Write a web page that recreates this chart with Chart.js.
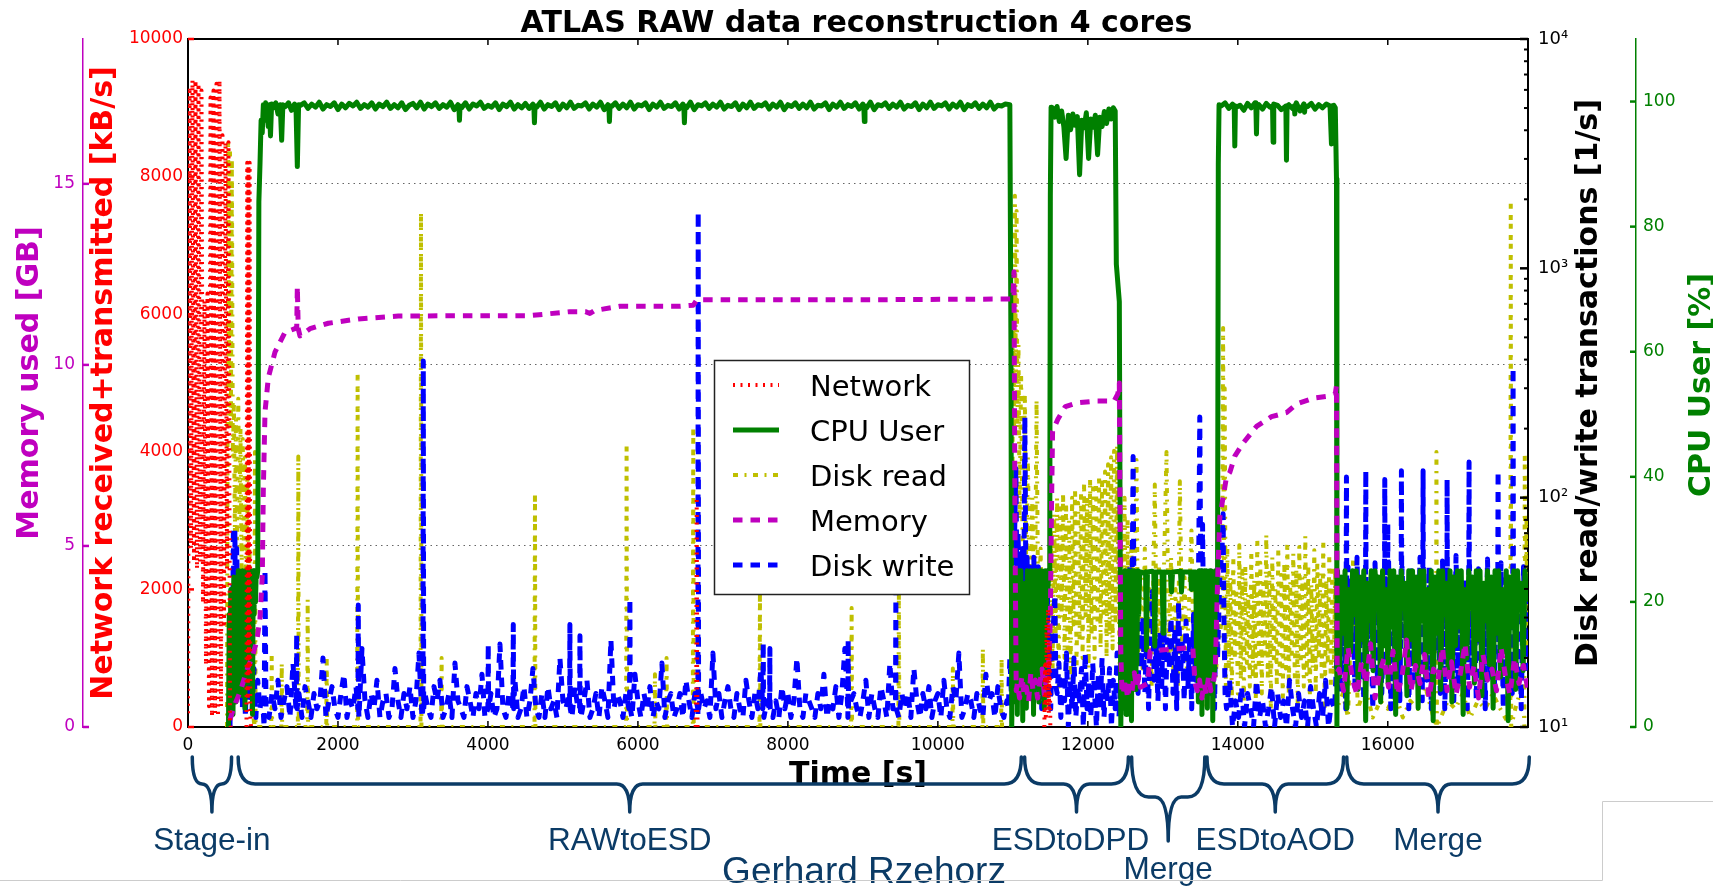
<!DOCTYPE html>
<html><head><meta charset="utf-8">
<script src="https://cdn.jsdelivr.net/npm/chart.js@4.4.0/dist/chart.umd.min.js"></script>
<style>html,body{margin:0;padding:0;background:#fff;}canvas{display:block;}</style>
</head><body>
<canvas id="c" width="1713" height="887"></canvas>
<script>
// ---------------- DATA ----------------
const chartTitle = 'ATLAS RAW data reconstruction 4 cores';
const xTicks = [0, 2000, 4000, 6000, 8000, 10000, 12000, 14000, 16000];
const netTicks = [0, 2000, 4000, 6000, 8000, 10000];
const memTicks = [0, 5, 10, 15];
const cpuTicks = [0, 20, 40, 60, 80, 100];
const logTicks = [10, 100, 1000, 10000];
const logTickLabels = ['10¹', '10²', '10³', '10⁴'];
const logMinorTicks = [20,30,40,50,60,70,80,90,200,300,400,500,600,700,800,900,2000,3000,4000,5000,6000,7000,8000,9000];

const phaseNames = ['Stage-in', 'RAWtoESD', 'ESDtoDPD', 'Merge', 'ESDtoAOD', 'Merge'];
const phaseStart = [57, 669, 11157, 12584, 13589, 15453];
const phaseEnd = [581, 11113, 12541, 13560, 15410, 17887];
const author = 'Gerhard Rzehorz';

// Network [kB/s]: stage-in burst, t = 0 s, step 20 s
const networkStage = [200,9300,2600,9400,2400,9400,2300,9350,2400,9250,1800,6200,900,6300,300,9150,150,9250,200,9350,
  150,9400,300,8600,1500,8500,2300,8500,100];
// Network [kB/s]: later points [t, value] (null = no data)
const networkLater = [[570,0],[580,null],[780,0],[790,8200],[798,400],[806,8150],[814,800],[822,8200],[830,200],[840,0],[850,null],
  [6770,0],[6778,580],[6784,3340],[6790,600],[6796,0],[6800,null],
  [11420,0],[11430,900],[11440,100],[11450,1500],[11460,300],[11470,1715],[11480,200],[11490,1200],[11500,0],[11510,null]];

// CPU User [%]
const cpuStageIn = [0,18,3,22,6,20,2,24,10,19,4,23,8,25,12,21,5,24,14,25,9,22,3,25,15,25,7,24,17,25,11,23,2,25,18,25,20,25,24]; // t=540, step 10
const cpuPoints = [[930,25],[945,84],[960,90],[975,97],[990,95],[1005,99.5],[1020,97],[1035,99.8],[1050,99],[1070,96],[1085,99.5],[1100,94.5],
  [1115,99.6],[1140,99],[1170,99.8],[1200,98],[1230,99.5],[1249,93.8],[1265,99.5],[1300,99.2],[1340,99.8],[1380,98.6],[1420,99.6],[1440,99.2],[1458,89.6],[1475,99.5],
  [3612,99.3],[3620,97.0],[3628,99.3],[4612,99.3],[4620,96.6],[4628,99.3],[5612,99.3],[5620,96.8],[5628,99.3],
  [6612,99.3],[6620,96.6],[6628,99.3],[9012,99.3],[9020,96.8],[9028,99.3],
  [10960,99.5],[10975,60],[10985,0],[11492,25],[11500,85],[11510,99.1],
  [12365,98.5],[12380,74],[12420,68],[12440,0],
  [12700,24.8],[12750,24.6],[12770,24.8],[12782,12.3],[12795,24.8],[12860,24.9],[12880,24.7],[12893,12.9],[12905,24.8],[12990,24.8],[13004,15],[13015,24.8],
  [13100,24.7],[13116,21.6],[13130,24.8],[13235,24.9],[13249,21.6],[13262,24.8],[13370,24.8],[13382,22],[13395,24.8],[13440,24.8],
  [13730,25],[13740,90],[13750,99.5],
  [13952,99.3],[13960,92.9],[13968,99.3],[14241,99.3],[14249,94.8],[14257,99.3],[14463,99.3],[14471,93.5],[14479,99.3],
  [14641,99.3],[14649,90.6],[14657,99.3],[14752,99.3],[14760,98.0],[14768,99.3],[14882,99.3],[14890,98.3],[14898,99.3],
  [15241,99.3],[15249,93.2],[15257,99.3],
  [15300,99],[15316,87.6],[15322,0]];
const cpuRawToEsd = [99.4,99.8,98.9,99.6,99.1,99.9,98.8,99.5,99.2,99.8,98.7,99.6,99.0,99.7,99.3,99.9,98.9,99.5,99.1,99.8,98.8,
  99.6,99.2,99.9,98.9,99.5,99.0,99.8,98.7,99.4,99.7,99.0,99.9,98.8,99.6,99.2,99.8,98.9,99.5,99.1,99.9,98.7,
  99.5,99.0,99.8,98.8,99.6,99.3,99.9,98.9,99.4,99.1,99.8,98.7,99.6,99.2,99.9,98.8,99.5,99.0,99.7,98.9,99.6,
  99.1,99.9,98.8,99.5,99.2,99.8,98.7,99.6,99.0,99.9,98.9,99.4,99.3,99.8,98.8,99.6,99.1,99.9,98.7,99.5,99.2,
  99.8,98.9,99.6,99.0,99.9,98.8,99.5,99.3,99.8,98.7,99.6,99.1,99.9,98.9,99.4,99.2,99.8,98.8,99.6,99.0,99.9,
  98.7,99.5,99.3,99.8,98.9,99.6,99.1,99.9,98.8,99.4,99.2,99.8,98.7,99.6,99.0,99.9,98.9,99.5,99.3,99.8,98.8,
  99.6,99.1,99.9,98.7,99.5,99.2,99.8,98.9,99.6,99.0,99.9,98.8,99.4,99.3,99.8,98.7,99.6,99.1,99.9,98.9,99.5,
  99.2,99.8,98.8,99.6,99.0,99.9,98.7,99.5,99.3,99.8,98.9,99.6,99.1,99.9,98.8,99.4,99.2,99.8,98.7,99.6,99.0,
  99.9,98.9,99.5,99.3,99.8,98.8,99.6,99.1,99.9,98.7,99.5,99.2,99.8,98.9,99.6,99.0,99.9,98.8,99.4,99.3,99.6]; // t=1500, step 50
const cpuDpdIdle = [20,4,25,9,24,2,25,15,25,6,22,1,18,8,23,3,25,12,21,5,25,10,24,2,25,16,25,7,23,4,25,13,25,9,24,3,25,18,25,22,25]; // t=11000, step 12
const cpuDpd = [99.0,97.5,99.2,96.8,98.5,96.0,90.9,97.8,95.5,98.0,96.2,97.6,88.3,97.0,95.8,98.2,90.9,97.2,95.9,97.8,91.5,97.5,96.0,98.4,96.5,98.8,97.2,99.0]; // t=11530, step 30
const cpuMergeIdle = [15,3,24,8,25,2,20,11,25,5,23,1,25,14,25,6,22,10,25,18,24]; // t=12450, step 12
const cpuAodIdle = [10,24,4,25,12,25,2,21,8,25,15,25,3,23,11,25,6,24,1,19,9,25,20]; // t=13450, step 12
const cpuAod = [99.3,99.8,98.9,99.6,99.1,99.4,98.6,99.7,99.0,99.8,99.5,98.8,99.7,99.1,99.6,99.4,98.7,99.2,99.5,98.9,
  99.8,98.5,99.6,99.2,99.7,98.8,99.5,99.0,99.6,99.3,99.4]; // t=13780, step 50
const cpuMerge = [25,8,24,15,25,3,22,12,25,18,25,6,24,14,25,1,23,17,25,9,25,20,24,4,25,13,22,7,25,16,
  25,2,24,11,25,19,23,5,25,14,25,10,24,3,25,17,25,8,22,12,25,1,24,15,25,6,25,18,23,9,
  25,4,24,13,25,16,25,2,22,11,25,19,24,7,25,14,25,5,23,17,25,10,24,3,25,15,25,8,22,12,
  25,1,24,16,25,6,25,19,23,9,25,20]; // t=15330, step 25

// Memory [GB]
const memPoints = [[560,0.2],[620,0.6],[700,1.0],[782,1.55],[850,1.9],[915,2.35],[960,3.0],[991,4.2],[1004,6.5],[1027,8.7],[1071,9.65],[1160,10.35],
  [1293,10.9],[1427,11.0],[1450,11.05],[1458,12.16],[1470,11.0],[1493,10.8],[1627,11.0],[1871,11.15],[2271,11.27],[2804,11.35],[3960,11.36],[4560,11.36],
  [5093,11.47],[5300,11.47],[5360,11.42],[5420,11.5],[5760,11.62],[6560,11.62],[6740,11.65],[6787,11.8],[9160,11.8],[10968,11.82],[11000,11.85],[11015,12.57],
  [11030,5.0],[11045,1.0],
  [11500,3.0],[11515,6.0],[11530,8.17],[11600,8.5],[11700,8.85],[11850,8.95],[12100,9.0],[12350,9.0],[12400,9.2],[12420,9.5],[12440,2.0],[12455,1.0],
  [12700,1.1],[12800,1.2],[12830,2.1],[13400,2.2],[13430,1.2],
  [13730,4.0],[13760,5.8],[13849,6.9],[13893,7.03],[13960,7.48],[14067,7.83],[14249,8.3],[14449,8.57],[14649,8.68],[14782,8.92],[15004,9.08],[15227,9.14],
  [15300,9.2],[15316,9.42],[15325,1.5]];
const memDpdIdle = [1.2,0.8,1.4,0.9,1.1,0.7,1.5,1.0,1.3,0.8,1.2,1.6,0.9,1.4,1.8]; // t=11060, step 30
const memMergeIdle = [0.9,1.3,0.8,1.2,1.0,1.5,1.1,1.4]; // t=12470, step 30
const memAodIdle = [1.0,1.3,0.8,1.2,0.9,1.4,1.0,1.2,1.6]; // t=13460, step 30
const memMerge = [1.6,1.0,2.2,1.3,0.9,1.8,1.2,2.3,0.8,1.5,1.9,1.1,2.1,0.9,1.4,2.4,1.0,1.7,1.2,2.0,
  0.8,1.6,1.3,2.2,1.0,1.8,0.9,1.5,2.3,1.1,1.7,0.8,2.0,1.3,1.6,1.0,2.2,1.4,0.9,1.9,1.2,1.7,1.0]; // t=15350, step 60

// Disk read [1/s]
const readPoints = [[520,10],[535,3500],[548,300],[560,3300],[572,200],[585,3000],[598,150],[612,260],[625,70],[640,220],[655,60],[670,270],[685,80],
  [700,200],[715,45],[730,180],[745,60],[760,150],[775,30],[790,120],[805,25],[820,60],[835,15],[850,40],[865,12],[885,10],[893,158],[901,10],
  [1110,10],[1116,21],[1122,10],[1244,10],[1250,19],[1256,10],[1465,10],[1471,151],[1477,10],[1590,10],[1596,36],[1602,10],[1844,10],[1850,20],[1856,10],
  [2256,10],[2262,348],[2268,10],[3101,10],[3107,1759],[3113,10],[3376,10],[3382,20],[3388,10],[4621,10],[4627,105],[4633,10],
  [5843,10],[5849,172],[5855,10],[6221,10],[6227,17],[6233,10],[6376,10],[6382,20],[6388,10],[6732,10],[6738,204],[6744,10],
  [7621,10],[7627,38.6],[7633,10],[8844,10],[8850,33],[8856,10],[9474,10],[9480,39.5],[9486,10],[10194,10],[10200,18],[10206,10],
  [10594,10],[10600,22],[10606,10],[10844,10],[10850,20],[10856,10],
  [10990,10],[11000,800],[11015,200],[11027,2075],[11040,300],[11050,1780],[11060,200],[11075,466],[11090,80],[11110,350],[11130,60],[11160,280],
  [11180,40],[11200,150],[11230,30],[11260,100],[11290,20],[11316,267],[11340,25],[11370,60],[11400,15],[11430,40],[11460,12],[11490,30],
  [12410,40],[12430,15],[12450,60],[12470,15],[12490,100],[12510,20],[12530,80],[12550,15],[12580,60],[12610,18],[12649,146],[12670,20],
  [12700,45],[12730,18],[12760,60],[12790,20],[12820,40],[12850,15],[12893,114],[12920,20],[12950,50],[12980,18],[13010,40],[13049,158],
  [13080,20],[13110,55],[13140,18],[13170,40],[13200,15],[13227,118],[13260,20],[13290,45],[13320,18],[13350,35],[13382,72],[13410,20],
  [13440,30],[13470,15],[13500,30],[13530,12],[13560,25],[13600,15],[13640,28],[13680,12],[13720,20],[13790,30],[13804,550],[13815,40],[13825,300],
  [15320,12],[15400,14],[15470,11],[15538,54],[15600,12],[15700,15],[15800,11],[15900,13],[16000,12],[16100,14],[16200,11],[16300,13],[16400,12],
  [16500,15],[16643,10],[16649,158],[16655,10],[16800,13],[16900,12],[17000,14],[17100,11],[17200,13],[17300,12],[17400,14],[17500,12],
  [17634,10],[17640,1950],[17646,10],[17700,12],[17760,14],[17800,20],[17821,10],[17827,157],[17833,30],[17850,80],[17860,20],[17870,40]];
const readDpd = [70,18,85,25,100,15,90,30,105,20,95,22,80,16,100,28,110,18,95,24,105,20,115,30,100,18,120,25,110,20,
  115,28,125,22,120,30,130,20,140,25,150,22,160,28,169]; // t=11510, step 20
const readAod = [15,60,18,45,13,55,20,40,14,62,16,48,12,50,19,38,15,58,17,44,13,66,18,52,14,42,20,69,16,47,
  12,55,19,40,15,60,17,46,13,52,18,64,14,43,20,57,16,49,12,61,19,45,15,68,17,50,13,42,18,59,
  14,53,20,47,16,65,12,44,19,56,15,50,17,48]; // t=13840, step 20

// Disk write [1/s]
const writePoints = [[560,10],[575,30],[590,12],[605,74],[615,20],[625,72],[640,15],[650,60],[665,25],[680,45],[695,14],[710,30],[725,12],[745,25],
  [765,11],[785,20],[805,13],[830,24],[855,12],[880,18],[905,11],[930,16],[960,12],[990,14],[1015,10],[1027,48.5],[1040,12],
  [1444,12],[1449,25.5],[1454,12],[2266,12],[2271,34],[2276,12],[3133,12],[3138,394],[3143,12],[3999,12],[4004,23],[4009,12],
  [4333,12],[4338,28],[4343,12],[5088,12],[5093,28],[5098,12],[5222,12],[5227,25],[5232,12],[5888,12],[5893,36.3],[5898,12],
  [6799,12],[6804,1763],[6809,12],[7666,12],[7671,23.4],[7676,12],[7755,12],[7760,22],[7765,12],[8799,12],[8804,24],[8809,12],
  [9435,12],[9440,39.5],[9445,12],
  [10940,12],[10960,20],[10980,14],[11000,22],[11020,60],[11040,134],[11055,40],[11070,70],[11085,30],[11100,56],[11115,25],[11130,60],
  [11145,30],[11160,225],[11175,35],[11190,55],[11205,20],[11220,50],[11235,15],[11250,45],[11265,25],[11280,55],[11295,18],[11310,40],
  [11325,14],[11340,50],[11355,22],[11370,38],[11385,12],[11400,45],[11415,20],[11430,30],[11445,13],[11460,42],[11475,18],[11490,25],
  [11505,12],[11520,20],[11560,37.8],[11575,15],
  [12460,15],[12480,30],[12500,12],[12520,40],[12540,15],[12560,50],[12580,20],[12595,60],[12604,151],[12613,46],[12630,20],[12650,35],[12670,14],[12690,28],
  [13460,20],[13480,60],[13493,225],[13505,50],[13520,30],[13530,76.6],[13545,25],[13570,18],[13600,35],[13630,14],[13660,28],[13690,12],
  [13710,40],[13730,20],[13760,45],[13790,60],[13804,85],[13815,30],[13830,14],
  [15444,30],[15449,123],[15454,30],[15702,30],[15707,131],[15712,30],[15955,30],[15960,120],[15965,30],[15995,30],[16000,77],[16005,30],
  [16177,30],[16182,131],[16187,30],[16466,30],[16471,131],[16476,30],[16786,30],[16791,120],[16796,30],[17079,30],[17084,143],[17089,30],
  [17466,30],[17471,131],[17476,30],[17666,30],[17671,370],[17676,30]];
const writeRawToEsd = [11,14,12,16,11,13,15,11,19,12,14,11,15, 13,11,14,12,13,20,11,13,15,12,11,14,17,
  11,13,12,15,11,22,13,11,14,12,16,11,13, 14,11,12,18,13,11,14,12,15,11,13,21,11,
  14,12,11,15,13,16,11,12,14,11,19,13,12, 11,15,13,11,14,12,17,11,13,14,11,12,23,
  12,11,14,13,16,11,12,15,11,13,18,12,11, 14,11,15,12,13,11,20,13,12,14,11,15,12,
  11,13,16,11,12,14,11,15,13,11,24,12,14, 13,11,14,12,11,17,13,11,14,12,15,11,13,
  12,19,11,13,14,11,12,14,11,16,13,11,14, 11,14,12,13,11,21,12,14,11,13,15,12,11,
  14,12,11,16,13,11,14,12,18,11,13,14,11, 13,11,15,12,14,11,13,20,12,11,14,13,12,
  11,14,12,17,11,13,12,15,11,14,22,11,13, 14,12,11,13,16,11,14,12,11,15,13,11,19,
  12,13,11,14,12,14,11,18,13,11,14,12,15, 11,13,14,11,16,12,11,15,13,21,11,12,14,
  13,11,14,12,11,17,13,14,11,15,12,11,13]; // t=1080, step 40
const writeDpd = [14,19,11,17,13,21,10,16,12,20,11,15,13,18,10,21,12,16,11,19,14,10,17,12,20,11,15,13,18,10,16,12,21,11,17]; // t=11590, step 25
const writeMergeA = [18,30,14,25,12,28,39,16,22,13,26,15,33,12,24,18,30,14,27,12,35,17,23,13,29,15,25,12,31,16]; // t=12710, step 25
const writeAod = [12,16,10,13,11,15,10,14,12,10,16,11,13,10,12,15,10,14,11,13,10,16,12,10,14,11,13,10,15,12,10,14,11,16,10,13,12]; // t=13850, step 40
const writeMergeB = [20,45,14,38,12,50,25,42,15,55,18,40,13,48,22,35,12,52,16,44,
  14,38,20,55,12,46,17,40,13,50,24,36,12,48,15,42,19,55,13,39,
  16,50,12,44,21,37,14,53,12,41,18,47,13,56,15,39,20,45,12,51,
  17,43,13,49,22,38,12,54,16,46,14,40,19,52,12,44,23,37,14,48,
  15,42,12,50,18,36]; // t=15320, step 30

// ---------------- BUILD ----------------
const seg = (t0, dt, vals) => vals.map((v, i) => ({x: t0 + i * dt, y: v}));
const pairs = arr => arr.map(p => ({x: p[0], y: p[1]}));
const join = (...parts) => parts.flat().sort((a, b) => a.x - b.x);

const networkData = join(seg(0, 20, networkStage), pairs(networkLater));
const cpuData = join(seg(540, 10, cpuStageIn), pairs(cpuPoints), seg(1500, 50, cpuRawToEsd), seg(11000, 12, cpuDpdIdle),
  seg(11530, 30, cpuDpd), seg(12450, 12, cpuMergeIdle), seg(13450, 12, cpuAodIdle), seg(13780, 50, cpuAod), seg(15330, 25, cpuMerge));
const memData = join(pairs(memPoints), seg(11060, 30, memDpdIdle), seg(12470, 30, memMergeIdle), seg(13460, 30, memAodIdle), seg(15350, 60, memMerge));
const readData = join(pairs(readPoints), seg(11510, 20, readDpd), seg(13840, 20, readAod));
const writeData = join(pairs(writePoints), seg(1080, 40, writeRawToEsd), seg(11590, 25, writeDpd), seg(12710, 25, writeMergeA),
  seg(13850, 40, writeAod), seg(15320, 30, writeMergeB));

Chart.defaults.font.family = '"DejaVu Sans", sans-serif';

const setTicks = vals => (s) => { s.ticks = vals.map(v => ({value: v})); };

const deco = {
  id: 'deco',
  afterDraw(chart) {
    const ctx = chart.ctx;
    const {left, right, top, bottom} = chart.chartArea;
    const s = chart.scales;
    ctx.save();
    const line = (x1, y1, x2, y2, color, w) => {
      ctx.strokeStyle = color; ctx.lineWidth = w; ctx.setLineDash([]);
      ctx.beginPath(); ctx.moveTo(x1, y1); ctx.lineTo(x2, y2); ctx.stroke();
    };
    // top spine
    line(left - 1, top, right + 1, top, '#000', 2);
    // tick marks
    xTicks.forEach(v => { const x = s.x.getPixelForValue(v); line(x, bottom, x, bottom - 6, '#000', 1.5); line(x, top, x, top + 6, '#000', 1.5); });
    netTicks.forEach(v => { const y = s.yNet.getPixelForValue(v); line(left, y, left + 6, y, '#ff0000', 2.5); });
    memTicks.forEach(v => { const y = s.yMem.getPixelForValue(v); const x = s.yMem.right; line(x, y, x + 6, y, '#bf00bf', 2.5); });
    cpuTicks.forEach(v => { const y = s.yCpu.getPixelForValue(v); const x = s.yCpu.left; line(x - 6, y, x, y, '#008000', 2.5); });
    logTicks.forEach(v => { const y = s.yLog.getPixelForValue(v); line(right - 8, y, right, y, '#000', 2.5); });
    logMinorTicks.forEach(v => { const y = s.yLog.getPixelForValue(v); line(right - 4, y, right, y, '#000', 2); });

    // axis titles
    const vtext = (txt, x, y, color) => {
      ctx.save(); ctx.translate(x, y); ctx.rotate(-Math.PI / 2);
      ctx.font = 'bold 30px "DejaVu Sans"'; ctx.fillStyle = color; ctx.textAlign = 'center'; ctx.textBaseline = 'alphabetic';
      ctx.fillText(txt, 0, 0); ctx.restore();
    };
    const cy = (top + bottom) / 2;
    vtext('Memory used [GB]', 38, cy, '#bf00bf');
    vtext('Network received+transmitted [kB/s]', 112, cy, '#ff0000');
    vtext('Disk read/write transactions [1/s]', 1597, cy, '#000000');
    vtext('CPU User [%]', 1710, cy + 2, '#008000');
    ctx.font = 'bold 30px "DejaVu Sans"'; ctx.fillStyle = '#000'; ctx.textAlign = 'center'; ctx.textBaseline = 'alphabetic';
    ctx.fillText('Time [s]', (left + right) / 2, 783);

    // legend
    const lx = 714.5, ly = 360.5, lw = 255, lh = 234;
    ctx.fillStyle = '#fff'; ctx.fillRect(lx, ly, lw, lh);
    ctx.strokeStyle = '#222'; ctx.lineWidth = 1.5; ctx.strokeRect(lx, ly, lw, lh);
    chart.data.datasets.forEach((ds, i) => {
      const y = 385 + 45 * i;
      ctx.strokeStyle = ds.borderColor; ctx.lineWidth = ds.borderWidth; ctx.lineCap = 'butt';
      ctx.setLineDash(ds.borderDash || []);
      ctx.beginPath(); ctx.moveTo(733, y); ctx.lineTo(779, y); ctx.stroke();
      ctx.setLineDash([]);
      ctx.font = '29px "DejaVu Sans"'; ctx.fillStyle = '#000'; ctx.textAlign = 'left'; ctx.textBaseline = 'alphabetic';
      ctx.fillText(ds.label, 810, y + 10.5);
    });

    // phase braces
    const navy = '#0b3b66';
    ctx.strokeStyle = navy; ctx.lineWidth = 3.5; ctx.lineJoin = 'round'; ctx.lineCap = 'round';
    phaseNames.forEach((name, i) => {
      const xL = s.x.getPixelForValue(phaseStart[i]);
      const xR = s.x.getPixelForValue(phaseEnd[i]);
      const deep = (i === 3);
      const yTop = 757, yMid = deep ? 797 : 784, yTip = deep ? 841 : 812;
      const xM = (xL + xR) / 2, half = (xR - xL) / 2;
      const rE = Math.min(17, half / 2), rC = Math.min(13, half / 2);
      ctx.beginPath();
      ctx.moveTo(xL, yTop);
      ctx.quadraticCurveTo(xL, yMid, xL + rE, yMid);
      ctx.lineTo(xM - rC, yMid);
      ctx.quadraticCurveTo(xM, yMid, xM, yTip);
      ctx.quadraticCurveTo(xM, yMid, xM + rC, yMid);
      ctx.lineTo(xR - rE, yMid);
      ctx.quadraticCurveTo(xR, yMid, xR, yTop);
      ctx.stroke();
      ctx.font = '31.5px "Liberation Sans"'; ctx.fillStyle = navy; ctx.textAlign = 'center'; ctx.textBaseline = 'alphabetic';
      ctx.fillText(name, xM - (i === 2 ? 6 : 0), deep ? 879 : 850);
    });
    ctx.font = '37px "Liberation Sans"'; ctx.fillStyle = navy; ctx.textAlign = 'center';
    ctx.fillText(author, 864, 883);

    // slide frame remnants
    ctx.strokeStyle = '#cccccc'; ctx.lineWidth = 1; ctx.lineCap = 'butt';
    ctx.beginPath(); ctx.moveTo(0, 880.5); ctx.lineTo(1602.5, 880.5); ctx.lineTo(1602.5, 801.5); ctx.lineTo(1713, 801.5); ctx.stroke();
    ctx.restore();
  }
};

new Chart(document.getElementById('c'), {
  type: 'line',
  data: {
    datasets: [
      {label: 'Network', data: networkData, yAxisID: 'yNet', borderColor: '#ff0000', borderWidth: 4, borderDash: [2, 5.5], order: 1},
      {label: 'CPU User', data: cpuData, yAxisID: 'yCpu', borderColor: '#008000', borderWidth: 5, borderDash: [], order: 3},
      {label: 'Disk read', data: readData, yAxisID: 'yLog', borderColor: '#bfbf00', borderWidth: 4, borderDash: [5, 6.5, 2, 6.5], order: 5},
      {label: 'Memory', data: memData, yAxisID: 'yMem', borderColor: '#bf00bf', borderWidth: 5, borderDash: [9.5, 8], order: 2},
      {label: 'Disk write', data: writeData, yAxisID: 'yLog', borderColor: '#0000ff', borderWidth: 5, borderDash: [9.5, 8], order: 4}
    ]
  },
  options: {
    responsive: false, animation: false, devicePixelRatio: 1, events: [],
    layout: {padding: 0},
    elements: {point: {radius: 0}, line: {tension: 0, borderCapStyle: 'butt', borderJoinStyle: 'round', fill: false}},
    plugins: {
      legend: {display: false}, tooltip: {enabled: false},
      title: {display: true, text: chartTitle, color: '#000', font: {size: 30, weight: 'bold', lineHeight: 1}, padding: {top: 9, bottom: 0}}
    },
    scales: {
      x: {type: 'linear', position: 'bottom', min: 0, max: 17870,
        afterBuildTicks: setTicks(xTicks), afterFit: s => { s.height = 160; },
        ticks: {color: '#000', font: {size: 17}, padding: 8, autoSkip: false, maxRotation: 0, callback: v => String(v)},
        grid: {display: false, drawTicks: false}, border: {color: '#000', width: 2}},
      yNet: {type: 'linear', position: 'left', min: 0, max: 10000,
        afterBuildTicks: setTicks(netTicks), afterFit: s => { s.width = 105; },
        ticks: {color: '#ff0000', font: {size: 17}, padding: 5, autoSkip: false, callback: v => String(v)},
        grid: {display: false, drawTicks: false}, border: {color: '#000', width: 2}},
      yMem: {type: 'linear', position: 'left', min: 0, max: 19,
        afterBuildTicks: setTicks(memTicks), afterFit: s => { s.width = 83; },
        ticks: {color: '#bf00bf', font: {size: 17}, padding: 8, autoSkip: false, callback: v => String(v)},
        grid: {display: true, drawOnChartArea: true, drawTicks: false, color: '#666', lineWidth: 1},
        border: {color: '#bf00bf', width: 1.5, dash: [1.5, 4]}},
      yLog: {type: 'logarithmic', position: 'right', min: 10, max: 10000,
        afterBuildTicks: setTicks(logTicks), afterFit: s => { s.width = 108; },
        ticks: {color: '#000', font: {size: 18}, padding: 10, autoSkip: false, callback: v => logTickLabels[logTicks.indexOf(v)] ?? ''},
        grid: {display: false, drawTicks: false}, border: {color: '#000', width: 2}},
      yCpu: {type: 'linear', position: 'right', min: 0, max: 110,
        afterBuildTicks: setTicks(cpuTicks), afterFit: s => { s.width = 77; },
        ticks: {color: '#008000', font: {size: 17}, padding: 7, autoSkip: false, callback: v => String(v)},
        grid: {display: false, drawTicks: false}, border: {color: '#008000', width: 1.5}}
    }
  },
  plugins: [deco]
});
</script>
</body></html>
